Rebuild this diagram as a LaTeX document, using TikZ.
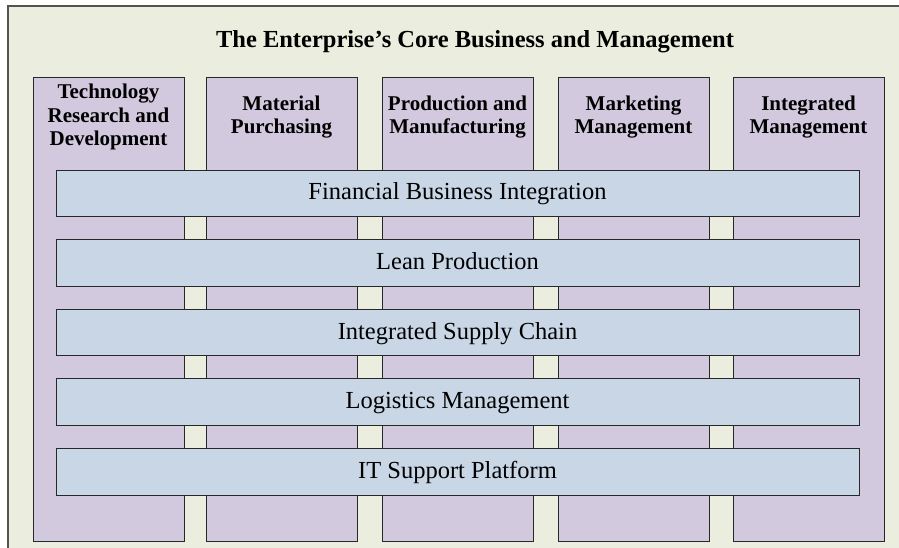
\documentclass[tikz,border=0pt]{standalone}
\usepackage{fontspec}
\setmainfont{Liberation Serif}
\definecolor{outerfill}{RGB}{235,238,222}
\definecolor{colfill}{RGB}{211,201,223}
\definecolor{barfill}{RGB}{200,214,230}
\definecolor{edge}{RGB}{40,40,40}
\tikzset{
  outerbox/.style={draw=edge!80, fill=outerfill, line width=1.1pt},
  colbox/.style={draw=edge, fill=colfill, line width=0.9pt, minimum width=151pt, minimum height=464pt, inner sep=0pt, outer sep=0pt},
  barbox/.style={draw=edge, fill=barfill, line width=0.9pt, minimum width=803pt, minimum height=46.5pt, inner sep=0pt, outer sep=0pt, text height=13pt, text depth=0pt, font=\fontsize{24.5}{28}\selectfont},
  headtext/.style={align=center, font=\fontsize{21}{23.5}\selectfont\bfseries, inner sep=0pt},
  titletext/.style={font=\fontsize{24.5}{28}\selectfont\bfseries, inner sep=0pt, anchor=base}
}
\begin{document}
\begin{tikzpicture}[x=1pt,y=-1pt]
\useasboundingbox (0,0) rectangle (899,548);
\clip (0,0) rectangle (899,548);
\draw[outerbox] (8,6) rectangle (920,570);
\node[titletext] (title) at (475,48) {The Enterprise’s Core Business and Management};
% columns
\node[colbox] (col1) at (108.5,309) {};
\node[colbox] (col2) at (281.5,309) {};
\node[colbox] (col3) at (457.5,309) {};
\node[colbox] (col4) at (633.5,309) {};
\node[colbox] (col5) at (808.5,309) {};
% column headers
\node[headtext] (h1) at (108.5,117) {Technology\\Research and\\Development};
\node[headtext] (h2) at (281.5,117) {Material\\Purchasing};
\node[headtext] (h3) at (457.5,117) {Production and\\Manufacturing};
\node[headtext] (h4) at (633.5,117) {Marketing\\Management};
\node[headtext] (h5) at (808.5,117) {Integrated\\Management};
% bars
\node[barbox] (bar1) at (457.5,193.5) {Financial Business Integration};
\node[barbox] (bar2) at (457.5,263) {Lean Production};
\node[barbox] (bar3) at (457.5,332.5) {Integrated Supply Chain};
\node[barbox] (bar4) at (457.5,402) {Logistics Management};
\node[barbox] (bar5) at (457.5,472) {IT Support Platform};
\end{tikzpicture}
\end{document}
